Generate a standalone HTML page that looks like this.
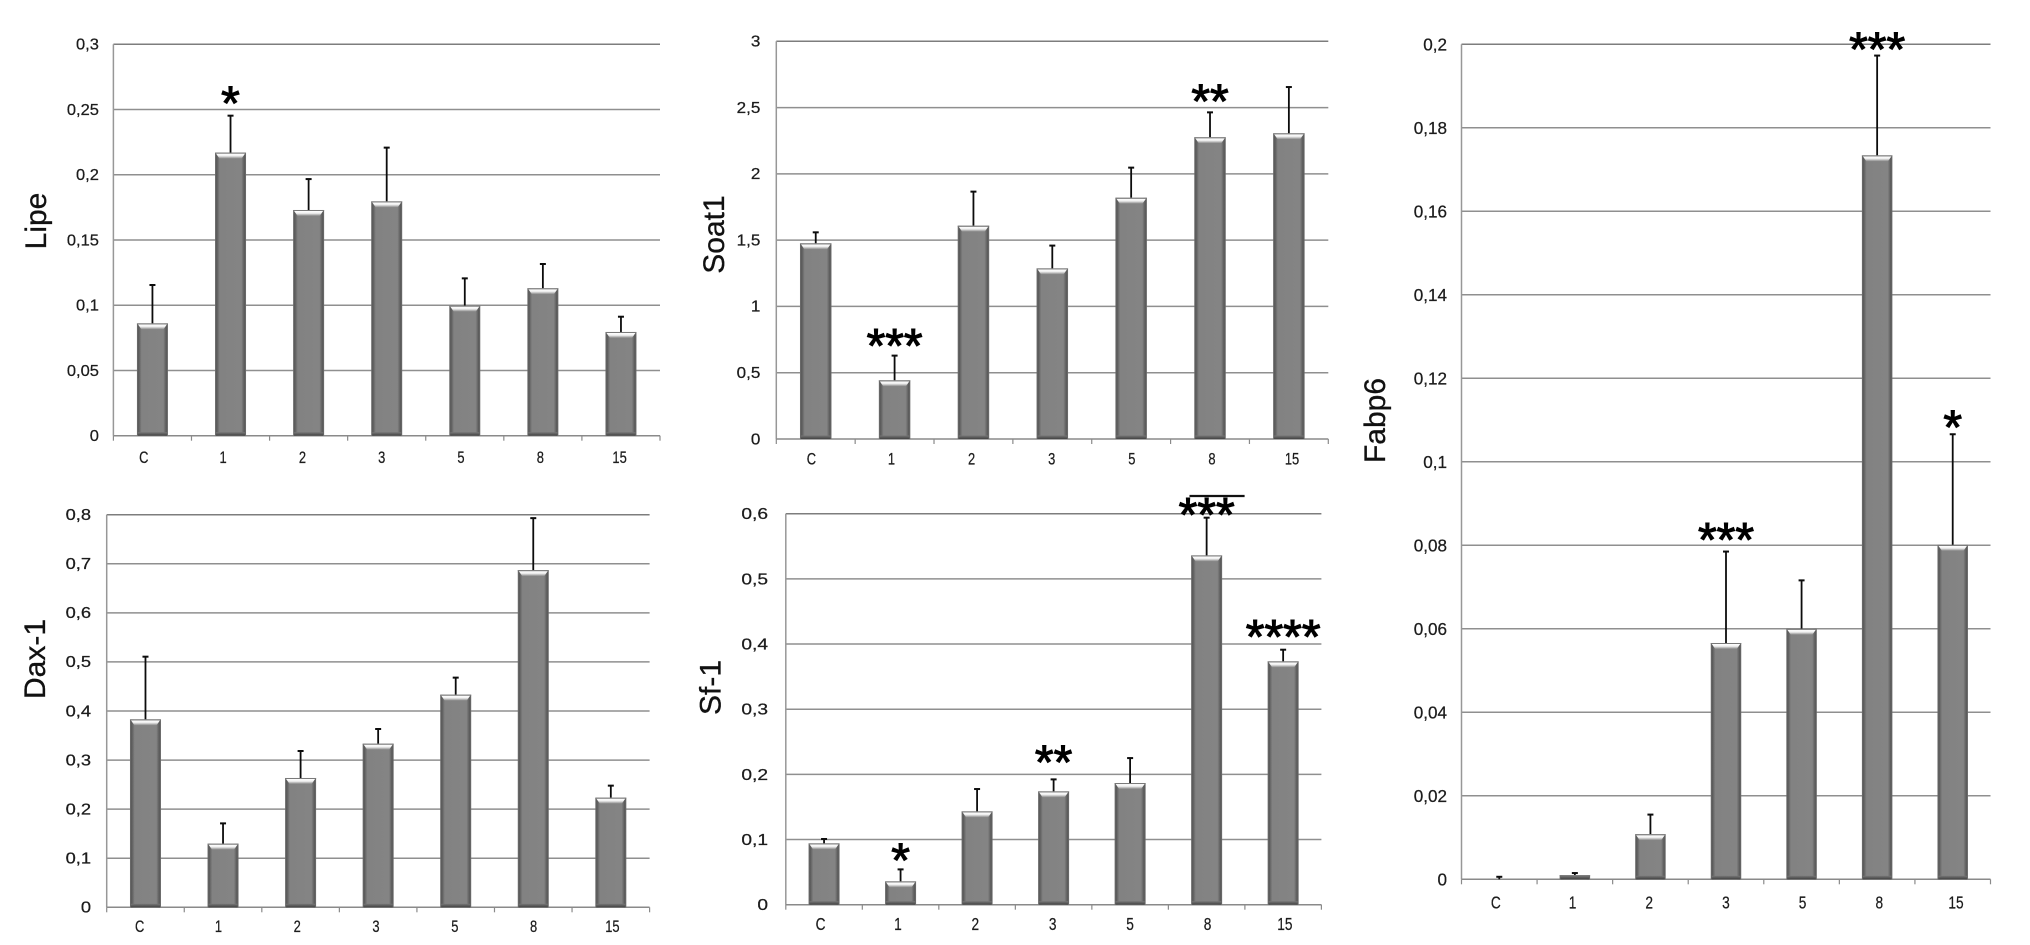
<!DOCTYPE html>
<html lang="en">
<head>
<meta charset="utf-8">
<title>Gene expression bar charts</title>
<style>
html,body{margin:0;padding:0;background:#fff;width:2030px;height:945px;overflow:hidden}
svg{display:block;font-family:"Liberation Sans",sans-serif}
</style>
</head>
<body>
<svg id="figure" xmlns="http://www.w3.org/2000/svg" width="2030" height="945" viewBox="0 0 2030 945">
<defs>
<linearGradient id="barBody" x1="0" x2="1" y1="0" y2="0">
<stop offset="0" stop-color="#707070"/><stop offset="0.05" stop-color="#585858"/><stop offset="0.15" stop-color="#828282"/><stop offset="0.85" stop-color="#848484"/><stop offset="0.95" stop-color="#585858"/><stop offset="1" stop-color="#707070"/>
</linearGradient>
<linearGradient id="barTop" x1="0" x2="0" y1="0" y2="1">
<stop offset="0" stop-color="#ffffff"/><stop offset="0.45" stop-color="#f0f0f0"/><stop offset="1" stop-color="#858585"/>
</linearGradient>
<linearGradient id="barBottom" x1="0" x2="0" y1="0" y2="1">
<stop offset="0" stop-color="#777777"/><stop offset="1" stop-color="#424242"/>
</linearGradient>
</defs>
</svg>
<script>
// Shared category labels
const categories = ['C', '1', '2', '3', '5', '8', '15'];

// Lipe
const lipeTicks = [0, 0.05, 0.1, 0.15, 0.2, 0.25, 0.3];
const lipeTickLabels = ['0', '0,05', '0,1', '0,15', '0,2', '0,25', '0,3'];
const lipeValues = [0.0861, 0.217, 0.173, 0.1796, 0.0997, 0.113, 0.0795];
const lipeErrorTops = [0.1155, 0.2453, 0.1967, 0.2208, 0.1206, 0.1316, 0.0912];
const lipeStars = ['', '*', '', '', '', '', ''];

// Soat1
const soatTicks = [0, 0.5, 1, 1.5, 2, 2.5, 3];
const soatTickLabels = ['0', '0,5', '1', '1,5', '2', '2,5', '3'];
const soatValues = [1.476, 0.4426, 1.609, 1.287, 1.82, 2.276, 2.306];
const soatErrorTops = [1.559, 0.629, 1.866, 1.459, 2.047, 2.464, 2.655];
const soatStars = ['', '***', '', '', '', '**', ''];

// Fabp6
const fabpTicks = [0, 0.02, 0.04, 0.06, 0.08, 0.1, 0.12, 0.14, 0.16, 0.18, 0.2];
const fabpTickLabels = ['0', '0,02', '0,04', '0,06', '0,08', '0,1', '0,12', '0,14', '0,16', '0,18', '0,2'];
const fabpValues = [0, 0.001, 0.0108, 0.0566, 0.06, 0.1734, 0.0801];
const fabpErrorTops = [0.0006, 0.0015, 0.0155, 0.0785, 0.0716, 0.1973, 0.1066];
const fabpStars = ['', '', '', '***', '', '***', '*'];

// Dax-1
const daxTicks = [0, 0.1, 0.2, 0.3, 0.4, 0.5, 0.6, 0.7, 0.8];
const daxTickLabels = ['0', '0,1', '0,2', '0,3', '0,4', '0,5', '0,6', '0,7', '0,8'];
const daxValues = [0.383, 0.1297, 0.2635, 0.3334, 0.4333, 0.687, 0.2234];
const daxErrorTops = [0.5107, 0.171, 0.3185, 0.3633, 0.468, 0.793, 0.2479];
const daxStars = ['', '', '', '', '', '', ''];

// Sf-1
const sfTicks = [0, 0.1, 0.2, 0.3, 0.4, 0.5, 0.6];
const sfTickLabels = ['0', '0,1', '0,2', '0,3', '0,4', '0,5', '0,6'];
const sfValues = [0.0941, 0.0358, 0.1432, 0.1739, 0.1867, 0.536, 0.3734];
const sfErrorTops = [0.1008, 0.0542, 0.1775, 0.1923, 0.225, 0.5939, 0.3913];
const sfStars = ['', '*', '', '**', '', '***', '****'];

const SVG_NS = 'http://www.w3.org/2000/svg';
const figure = document.getElementById('figure');

function shape(parent, tag, name, attrs) {
  const el = document.createElementNS(SVG_NS, tag);
  for (const k in attrs) el.setAttribute(k, attrs[k]);
  
  
  parent.appendChild(el);
  return el;
}

function label(parent, name, str, x, y, size, sx, anchor, extra) {
  const el = document.createElementNS(SVG_NS, 'text');
  el.setAttribute('transform', 'translate(' + x + ' ' + y + ') scale(' + sx + ' 1)');
  el.setAttribute('font-size', size);
  el.setAttribute('text-anchor', anchor);
  el.setAttribute('fill', '#1c1c1c');
  if (extra) for (const k in extra) el.setAttribute(k, extra[k]);
  el.textContent = str;
  
  
  parent.appendChild(el);
  return el;
}

function drawChart(c) {
  const g = document.createElementNS(SVG_NS, 'g');
  
  
  figure.appendChild(g);

  const maxV = c.ticks[c.ticks.length - 1];
  const yScale = v => c.bottom - (v / maxV) * (c.bottom - c.top);
  const band = (c.right - c.left) / c.categories.length;
  const xScale = i => c.left + band * (i + 0.5);

  // gridlines and y tick labels
  c.ticks.forEach((t, i) => {
    const y = yScale(t);
    if (t !== 0) {
      shape(g, 'line', c.id + '-gridline', {x1: c.left, x2: c.right, y1: y, y2: y, stroke: i === c.ticks.length - 1 ? '#7d7d7d' : '#8f8f8f', 'stroke-width': 1.5});
    }
    label(g, c.id + '-y-tick-label', c.tickLabels[i], c.left - c.tickGap, y + c.tickSize * 0.34, c.tickSize, c.tickSx, 'end', {stroke: '#1c1c1c', 'stroke-width': 0.25});
  });

  // axes
  shape(g, 'line', c.id + '-y-axis', {x1: c.left, x2: c.left, y1: c.top, y2: c.bottom, stroke: '#979797', 'stroke-width': 1.5});
  shape(g, 'line', c.id + '-x-axis', {x1: c.left, x2: c.right, y1: c.bottom, y2: c.bottom, stroke: '#8a8a8a', 'stroke-width': 1.5});
  for (let i = 0; i <= c.categories.length; i++) {
    const x = c.left + band * i;
    shape(g, 'line', c.id + '-x-tick', {x1: x, x2: x, y1: c.bottom, y2: c.bottom + 5, stroke: '#8a8a8a', 'stroke-width': 1.2});
  }

  // bars, error bars, significance marks
  c.categories.forEach((cat, i) => {
    const cx = xScale(i);
    const top = yScale(c.values[i]);
    const errY = yScale(c.errorTops[i]);
    const h = c.bottom - top;
    const w = c.barWidth;
    const x0 = cx - w / 2;

    shape(g, 'line', c.id + '-error-stem-' + cat, {x1: cx, x2: cx, y1: errY, y2: top, stroke: '#0c0c0c', 'stroke-width': 1.8});
    shape(g, 'line', c.id + '-error-cap-' + cat, {x1: cx - 3, x2: cx + 3, y1: errY, y2: errY, stroke: '#0c0c0c', 'stroke-width': 2});

    if (h > 0) {
      shape(g, 'rect', c.id + '-bar-' + cat, {x: x0, y: top, width: w, height: h, fill: 'url(#barBody)'});
      const topH = Math.min(6, h);
      const points = [x0 + 1, top + 1, x0 + w - 1, top + 1, x0 + w - 4.5, top + topH, x0 + 4.5, top + topH].join(',');
      shape(g, 'polygon', c.id + '-bar-highlight-' + cat, {points: points, fill: 'url(#barTop)'});
      shape(g, 'rect', c.id + '-bar-top-edge-' + cat, {x: x0, y: top, width: w, height: 1, fill: '#7a7a7a'});
      const botH = Math.min(3.5, h);
      shape(g, 'rect', c.id + '-bar-base-' + cat, {x: x0 + 1, y: c.bottom - botH, width: w - 2, height: botH, fill: 'url(#barBottom)'});
    }

    if (c.stars[i]) {
      const centerY = errY - c.starLift[i];
      label(g, c.id + '-significance-' + cat, c.stars[i], cx, centerY + 48 * 0.575 - 4.5, 48, 1, 'middle', {fill: '#000', stroke: '#000', 'stroke-width': 1.1});
    }

    const lx = c.labelStart + c.labelStep * i;
    label(g, c.id + '-x-tick-label-' + cat, cat, lx, c.labelY, c.labelSize, c.labelSx, 'middle', {stroke: '#1c1c1c', 'stroke-width': 0.25});
  });

  // y axis title
  const title = document.createElementNS(SVG_NS, 'text');
  title.setAttribute('transform', 'translate(' + c.titleX + ' ' + c.titleY + ') rotate(-90)');
  title.setAttribute('font-size', 30);
  title.setAttribute('text-anchor', 'middle');
  title.setAttribute('fill', '#111');
  title.setAttribute('stroke', '#111');
  title.setAttribute('stroke-width', 0.3);
  title.textContent = c.title;
  
  
  g.appendChild(title);

  return {yScale, xScale};
}

drawChart({
  id: 'lipe', title: 'Lipe', categories, ticks: lipeTicks, tickLabels: lipeTickLabels,
  values: lipeValues, errorTops: lipeErrorTops, stars: lipeStars,
  starLift: [0, 19.5, 0, 0, 0, 0, 0],
  left: 113.4, right: 660, top: 44.3, bottom: 435.7, barWidth: 31,
  titleX: 46, titleY: 221, tickGap: 14.5, tickSize: 16, tickSx: 1.03,
  labelStart: 143.8, labelStep: 79.3, labelY: 463, labelSize: 17, labelSx: 0.76
});

drawChart({
  id: 'soat1', title: 'Soat1', categories, ticks: soatTicks, tickLabels: soatTickLabels,
  values: soatValues, errorTops: soatErrorTops, stars: soatStars,
  starLift: [0, 16.7, 0, 0, 0, 18, 0],
  left: 776.3, right: 1328.3, top: 41.3, bottom: 439, barWidth: 31.5,
  titleX: 724, titleY: 234.5, tickGap: 16, tickSize: 15.5, tickSx: 1.1,
  labelStart: 811.4, labelStep: 80.1, labelY: 464.5, labelSize: 17, labelSx: 0.76
});

drawChart({
  id: 'fabp6', title: 'Fabp6', categories, ticks: fabpTicks, tickLabels: fabpTickLabels,
  values: fabpValues, errorTops: fabpErrorTops, stars: fabpStars,
  starLift: [0, 0, 0, 18.7, 0, 13, 14],
  left: 1461.5, right: 1990.5, top: 44.3, bottom: 879.3, barWidth: 30.5,
  titleX: 1385, titleY: 420.5, tickGap: 14.5, tickSize: 18, tickSx: 0.95,
  labelStart: 1495.8, labelStep: 76.7, labelY: 908.5, labelSize: 18, labelSx: 0.76
});

drawChart({
  id: 'dax1', title: 'Dax-1', categories, ticks: daxTicks, tickLabels: daxTickLabels,
  values: daxValues, errorTops: daxErrorTops, stars: daxStars,
  starLift: [0, 0, 0, 0, 0, 0, 0],
  left: 106.7, right: 649.6, top: 514.7, bottom: 907.3, barWidth: 31,
  titleX: 45, titleY: 659, tickGap: 15.7, tickSize: 15.5, tickSx: 1.18,
  labelStart: 139.6, labelStep: 78.8, labelY: 932, labelSize: 17, labelSx: 0.76
});

drawChart({
  id: 'sf1', title: 'Sf-1', categories, ticks: sfTicks, tickLabels: sfTickLabels,
  values: sfValues, errorTops: sfErrorTops, stars: sfStars,
  starLift: [0, 16, 0, 24, 0, 10, 20],
  left: 785.8, right: 1321.4, top: 513.7, bottom: 904.7, barWidth: 31,
  titleX: 720.5, titleY: 687.5, tickGap: 17.8, tickSize: 16, tickSx: 1.2,
  labelStart: 820.5, labelStep: 77.4, labelY: 930, labelSize: 18, labelSx: 0.76
});

const overline = document.createElementNS(SVG_NS, 'line');
overline.setAttribute('x1', 1189.5);
overline.setAttribute('x2', 1244.6);
overline.setAttribute('y1', 496);
overline.setAttribute('y2', 496);
overline.setAttribute('stroke', '#111');
overline.setAttribute('stroke-width', 2.2);


figure.appendChild(overline);
</script>
</body>
</html>
